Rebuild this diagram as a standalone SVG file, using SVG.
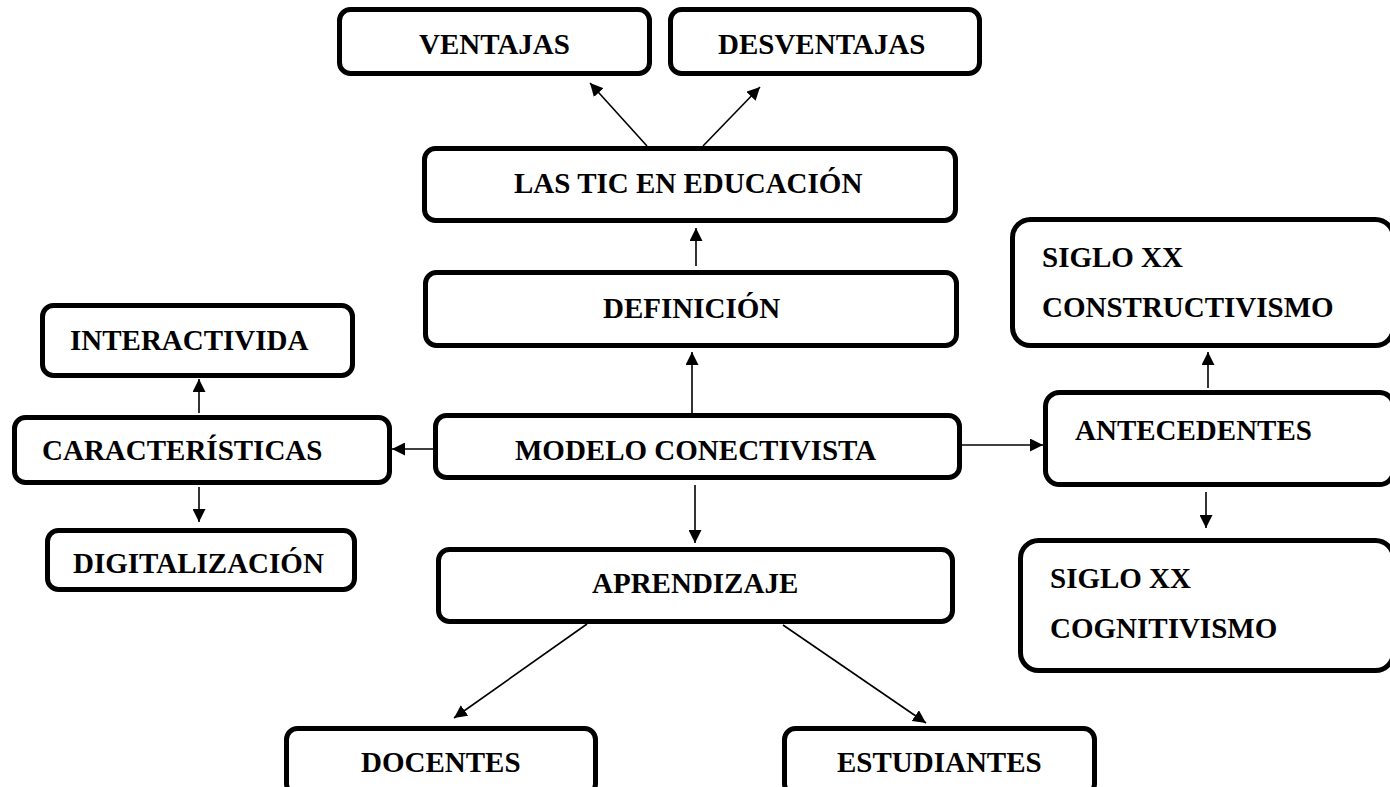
<svg xmlns="http://www.w3.org/2000/svg" width="1390" height="787" viewBox="0 0 1390 787">
<style>
.box{fill:#fff;stroke:#000;stroke-width:5}
.t{font-family:"Liberation Serif","Times New Roman",serif;font-weight:bold;font-size:29px;fill:#000}
.c{stroke:#000;stroke-width:1.6;fill:none;marker-end:url(#ah)}
</style>
<defs>
<marker id="ah" markerUnits="userSpaceOnUse" markerWidth="14" markerHeight="13" refX="13" refY="6.5" orient="auto">
<path d="M0,0 L13,6.5 L0,13 z" fill="#000"/>
</marker>
</defs>
<rect width="1390" height="787" fill="#fff"/>
<g id="connectors">
<line class="c" x1="647" y1="146" x2="590" y2="83"/>
<line class="c" x1="703" y1="146" x2="760" y2="87"/>
<line class="c" x1="696" y1="266" x2="696" y2="228"/>
<line class="c" x1="692" y1="413" x2="692" y2="352"/>
<line class="c" x1="695" y1="485" x2="695" y2="543"/>
<line class="c" x1="587" y1="624" x2="454" y2="718"/>
<line class="c" x1="783" y1="625" x2="926" y2="723"/>
<line class="c" x1="433" y1="449" x2="392" y2="449"/>
<line class="c" x1="962" y1="445" x2="1043" y2="445"/>
<line class="c" x1="199" y1="413" x2="199" y2="379"/>
<line class="c" x1="199" y1="487" x2="199" y2="522"/>
<line class="c" x1="1208" y1="388" x2="1208" y2="352"/>
<line class="c" x1="1206" y1="492" x2="1206" y2="528"/>
</g>
<g id="ventajas"><rect class="box" x="339.5" y="9.5" width="310" height="64" rx="11"/><text class="t" x="419" y="54">VENTAJAS</text></g>
<g id="desventajas"><rect class="box" x="670.5" y="9.5" width="309" height="64" rx="11"/><text class="t" x="718" y="54">DESVENTAJAS</text></g>
<g id="tic"><rect class="box" x="424.5" y="148.5" width="531" height="72" rx="11"/><text class="t" x="514" y="193">LAS TIC EN EDUCACIÓN</text></g>
<g id="definicion"><rect class="box" x="425.5" y="272.5" width="531" height="73" rx="11"/><text class="t" x="603" y="318">DEFINICIÓN</text></g>
<g id="modelo"><rect class="box" x="435.5" y="415.5" width="524" height="62" rx="11"/><text class="t" x="515" y="460">MODELO CONECTIVISTA</text></g>
<g id="aprendizaje"><rect class="box" x="438.5" y="549.5" width="514" height="72" rx="11"/><text class="t" x="592" y="593">APRENDIZAJE</text></g>
<g id="docentes"><rect class="box" x="286.5" y="728.5" width="309" height="66" rx="11"/><text class="t" x="361" y="772">DOCENTES</text></g>
<g id="estudiantes"><rect class="box" x="784.5" y="728.5" width="310" height="66" rx="11"/><text class="t" x="837" y="772">ESTUDIANTES</text></g>
<g id="interactividad"><rect class="box" x="42.5" y="305.5" width="310" height="70" rx="11"/><text class="t" x="70" y="350">INTERACTIVIDA</text></g>
<g id="caracteristicas"><rect class="box" x="14.5" y="417.5" width="375" height="65" rx="11"/><text class="t" x="42" y="460">CARACTERÍSTICAS</text></g>
<g id="digitalizacion"><rect class="box" x="47.5" y="530.5" width="307" height="59" rx="11"/><text class="t" x="73" y="573">DIGITALIZACIÓN</text></g>
<g id="constructivismo"><rect class="box" x="1012.5" y="219.5" width="381" height="126" rx="18"/><text class="t" x="1042" y="267">SIGLO XX</text><text class="t" x="1042" y="317">CONSTRUCTIVISMO</text></g>
<g id="antecedentes"><rect class="box" x="1045.5" y="392.5" width="348" height="92" rx="14"/><text class="t" x="1075" y="440">ANTECEDENTES</text></g>
<g id="cognitivismo"><rect class="box" x="1020.5" y="540.5" width="373" height="130" rx="18"/><text class="t" x="1050" y="588">SIGLO XX</text><text class="t" x="1050" y="638">COGNITIVISMO</text></g>
</svg>
